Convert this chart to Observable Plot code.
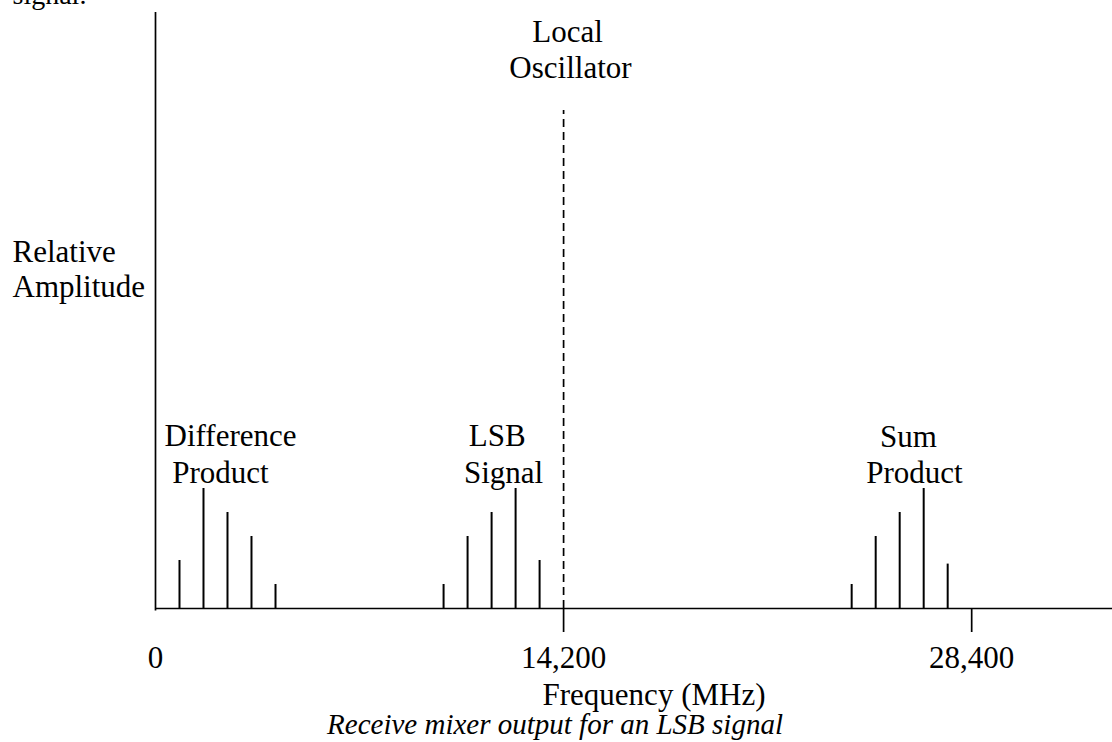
<!DOCTYPE html>
<html>
<head>
<meta charset="utf-8">
<script src="https://cdn.jsdelivr.net/npm/d3@7"></script>
<script src="https://cdn.jsdelivr.net/npm/@observablehq/plot@0.6"></script>
<style>
  html, body { margin: 0; padding: 0; background: white; }
  svg { display: block; }
</style>
</head>
<body>
<div id="chart"></div>
<script>
// Spectral components (frequency in MHz, relative amplitude in arbitrary units)
const diffFreq = [835, 1670, 2505, 3340, 4176];
const diffAmp  = [2, 5, 4, 3, 1];
const lsbFreq  = [10024, 10859, 11695, 12530, 13365];
const lsbAmp   = [1, 3, 4, 5, 2];
const sumFreq  = [24224, 25060, 25895, 26730, 27565];
const sumAmp   = [1, 3, 4, 5, 1.85];
const loFreq   = [14200];
const loAmp    = 20.75;
const tickValues = [0, 14200, 28400];
const tickMarks  = [14200, 28400];

// Group labels: text, centre frequency, baseline height
const groupLabels = [
  {text: "Difference", f: 2610, a: 6.79},
  {text: "Product",    f: 2262, a: 5.21},
  {text: "LSB",        f: 11890, a: 6.79},
  {text: "Signal",     f: 12109, a: 5.21},
  {text: "Sum",        f: 26200, a: 6.72},
  {text: "Product",    f: 26410, a: 5.22},
  {text: "Local",      f: 14336, a: 23.6},
  {text: "Oscillator", f: 14440, a: 22.1}
];

const lines = [
  ...diffFreq.map((f, i) => ({f, a: diffAmp[i]})),
  ...lsbFreq.map((f, i) => ({f, a: lsbAmp[i]})),
  ...sumFreq.map((f, i) => ({f, a: sumAmp[i]}))
];

const serif = "'Liberation Serif', 'Times New Roman', serif";

const chart = Plot.plot({
  width: 1112,
  height: 742,
  marginLeft: 155,
  marginRight: 0,
  marginTop: 12,
  marginBottom: 134,
  style: {fontFamily: serif, fontSize: "31px", color: "black", background: "white", overflow: "visible"},
  x: {domain: [0, 33300]},
  y: {domain: [0, 24.833], axis: null},
  marks: [
    // axes lines
    Plot.ruleY([0], {stroke: "black", strokeWidth: 1.7}),
    Plot.ruleX([0], {stroke: "black", strokeWidth: 1.7, y1: -0.1, y2: 24.833}),
    // tick marks below axis
    Plot.ruleX(tickMarks, {y1: 0, y2: -1, stroke: "black", strokeWidth: 1.7}),
    // tick labels
    Plot.axisX(tickValues, {tickSize: 0, tickPadding: 37, tickFormat: d3.format(","), fontSize: 31, label: null, fill: "black"}),
    // spectral lines
    Plot.ruleX(lines, {x: "f", y1: 0, y2: "a", stroke: "black", strokeWidth: 2}),
    // local oscillator
    Plot.ruleX(loFreq, {y1: 0, y2: loAmp, stroke: "black", strokeWidth: 1.7, strokeDasharray: "8,5"}),
    // group labels
    Plot.text(groupLabels, {x: "f", y: "a", text: "text", lineAnchor: "bottom", fontSize: 31, fill: "black"}),
    // y axis label
    Plot.text(["Relative\nAmplitude"], {frameAnchor: "left", y: [12.96], dx: -143, textAnchor: "start", lineAnchor: "bottom", lineHeight: 1.13, fontSize: 31, fill: "black"}),
    // x axis label
    Plot.text(["Frequency (MHz)"], {x: [17346], y: [0], dy: 96, lineAnchor: "bottom", fontSize: 31, fill: "black"}),
    // caption
    Plot.text(["Receive mixer output for an LSB signal"], {x: [13901], y: [0], dy: 125, lineAnchor: "bottom", fontSize: 29, fontStyle: "italic", fill: "black"}),
    // fragment of preceding text
    Plot.text(["signal."], {frameAnchor: "top-left", dx: -143, dy: -8.5, textAnchor: "start", lineAnchor: "bottom", fontSize: 28, fill: "black"})
  ]
});

document.getElementById("chart").appendChild(chart);
</script>
</body>
</html>
